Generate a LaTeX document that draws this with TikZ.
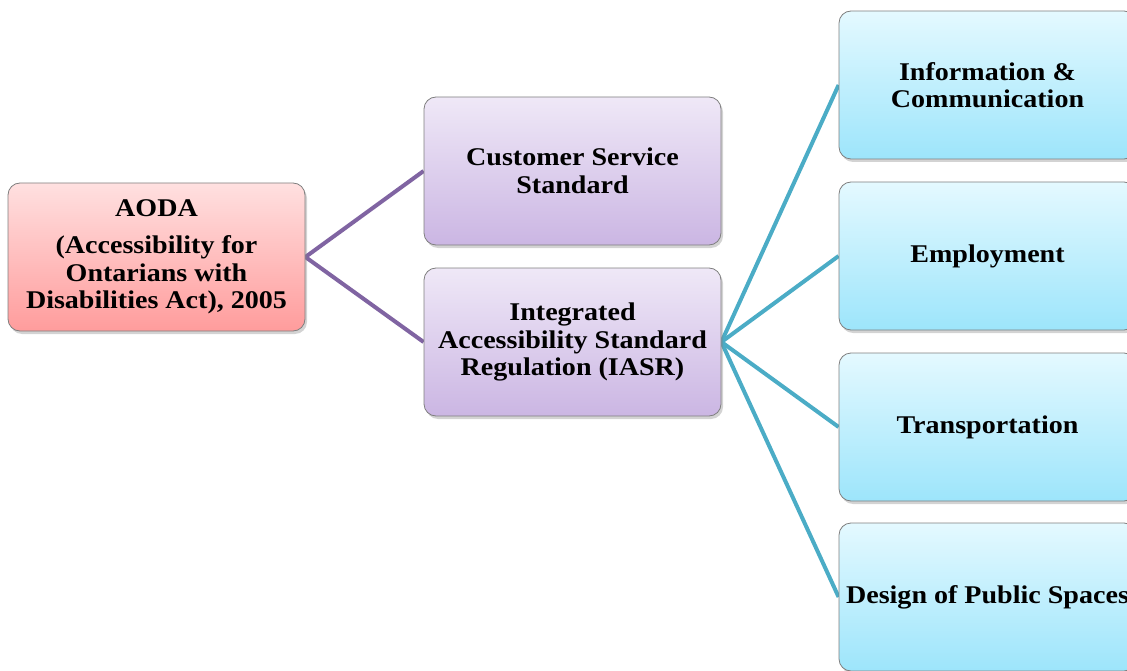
\documentclass[tikz,border=0pt]{standalone}
\usepackage{fontspec}
\setmainfont{Liberation Serif}[BoldFeatures={FakeStretch=1.1}]
\usetikzlibrary{shadows,backgrounds}
\definecolor{pinktop}{HTML}{FFE0E0}
\definecolor{pinkbot}{HTML}{FF9C9C}
\definecolor{purptop}{HTML}{EFE8F7}
\definecolor{purpbot}{HTML}{CBB6E3}
\definecolor{bluetop}{HTML}{E4F9FF}
\definecolor{bluebot}{HTML}{9DE5FB}
\definecolor{purpline}{HTML}{8064A2}
\definecolor{tealline}{HTML}{4BACC6}
\definecolor{edge}{HTML}{7F7F7F}
\tikzset{
  boxbase/.style={draw=edge, line width=0.8pt, rounded corners=12pt,
    minimum width=297pt, minimum height=148pt, inner sep=2pt, align=center,
    font=\bfseries\fontsize{25.5}{27.5}\selectfont,
    drop shadow={shadow xshift=2pt, shadow yshift=-3pt, opacity=0.35}},
  redbox/.style={boxbase, top color=pinktop, bottom color=pinkbot},
  purplebox/.style={boxbase, top color=purptop, bottom color=purpbot},
  bluebox/.style={boxbase, top color=bluetop, bottom color=bluebot},
  purpconn/.style={draw=purpline, line width=4pt},
  tealconn/.style={draw=tealline, line width=4pt}
}
\begin{document}
\begin{tikzpicture}[x=1pt,y=-1pt]
\useasboundingbox (0,0) rectangle (1127,671);
\node[redbox] (aoda) at (156.5,257) {AODA\\[10pt](Accessibility for\\Ontarians with\\Disabilities Act), 2005};
\node[purplebox] (cs) at (572.5,171) {Customer Service\\Standard};
\node[purplebox] (iasr) at (572.5,342) {Integrated\\Accessibility Standard\\Regulation (IASR)};
\node[bluebox] (info) at (987.5,85) {Information \&\\Communication};
\node[bluebox] (emp) at (987.5,256) {Employment};
\node[bluebox] (trans) at (987.5,427) {Transportation};
\node[bluebox] (design) at (987.5,597) {Design of Public Spaces};
\begin{pgfonlayer}{background}
\draw[purpconn] (aoda.east) -- (cs.west);
\draw[purpconn] (aoda.east) -- (iasr.west);
\draw[tealconn] (iasr.east) -- (info.west);
\draw[tealconn] (iasr.east) -- (emp.west);
\draw[tealconn] (iasr.east) -- (trans.west);
\draw[tealconn] (iasr.east) -- (design.west);
\end{pgfonlayer}
\end{tikzpicture}
\end{document}
